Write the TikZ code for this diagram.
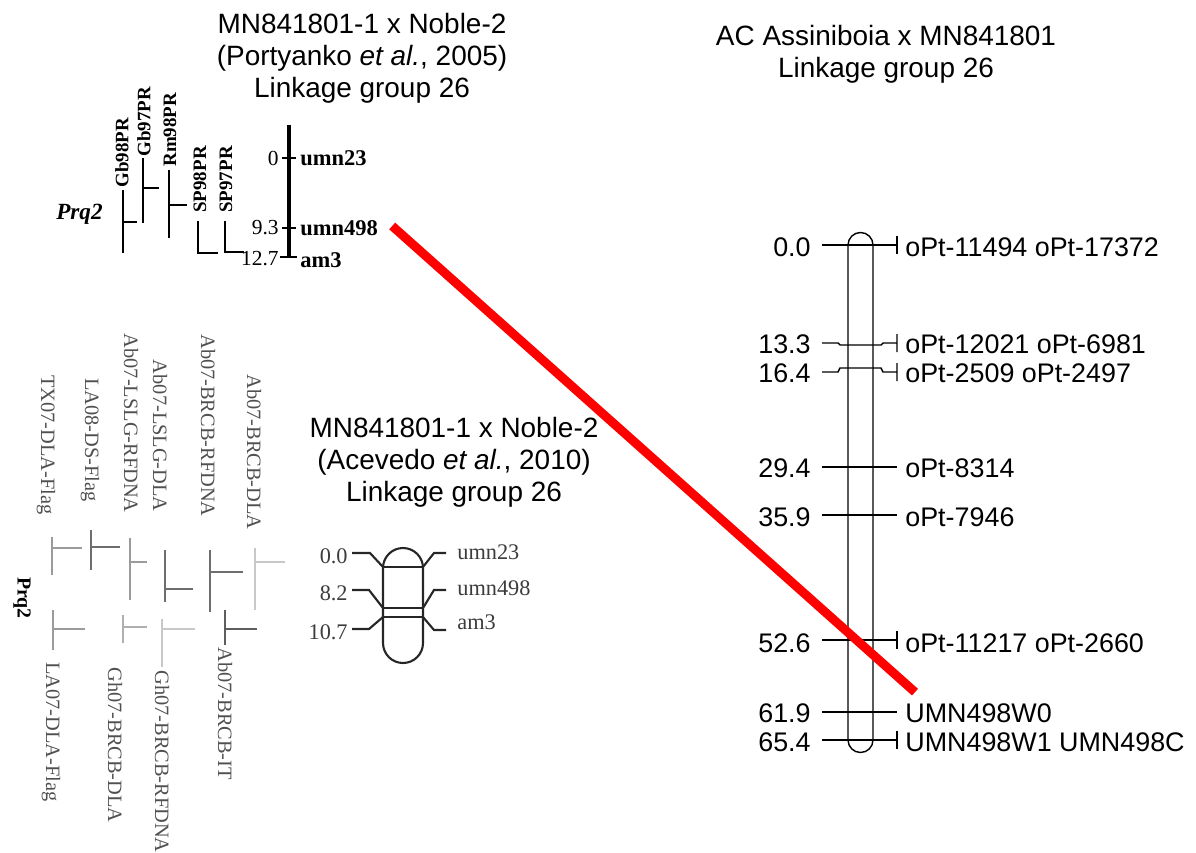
\documentclass[tikz,border=0pt]{standalone}
\usepackage{fontspec}
\setmainfont{Liberation Serif}
\setsansfont{Liberation Sans}
\usepackage{tikz}
\usetikzlibrary{positioning,calc}
\definecolor{qtllight}{RGB}{200,200,200}
\definecolor{qtlmid}{RGB}{155,155,155}
\definecolor{qtldark}{RGB}{110,110,110}
\definecolor{mapink}{RGB}{60,60,60}

\begin{document}
\begin{tikzpicture}[
  x=0.02cm, y=-0.02cm,
  title/.style={font=\sffamily\fontsize{15.9}{18.1}\selectfont,align=center,anchor=north,inner sep=0pt},
  pmark/.style={font=\fontsize{12.8}{14}\selectfont\bfseries,anchor=west,inner sep=0pt},
  pdist/.style={font=\fontsize{12.2}{14}\selectfont,anchor=east,inner sep=0pt},
  pqtl/.style={font=\fontsize{10.8}{12}\selectfont\bfseries,rotate=90,anchor=west,inner sep=0pt},
  pprq/.style={font=\fontsize{13.2}{15}\selectfont\bfseries\itshape,anchor=east,inner sep=0pt},
  amark/.style={text=mapink,font=\fontsize{12.7}{14}\selectfont,inner sep=0pt},
  aqtl/.style={text=mapink!90,font=\fontsize{11.6}{13}\selectfont,rotate=-90,inner sep=0pt},
  aprq/.style={font=\fontsize{11.3}{13}\selectfont\bfseries,rotate=-90,inner sep=0pt},
  rmark/.style={font=\sffamily\fontsize{15.3}{17}\selectfont,inner sep=0pt},
  pbar/.style={line width=2.2pt},
  qbar/.style={line width=1.7pt},
  ptick/.style={line width=1pt},
  gbar/.style={line width=1.5pt},
  achrom/.style={black!85,line width=1.2pt},
  chrom/.style={line width=0.8pt},
  link/.style={red,line width=5.1pt},
]
\useasboundingbox (0,0) rectangle (1196,852);

\node[title] (ptitle) at (362,13) {MN841801-1 x Noble-2\\(Portyanko \textit{et al.}, 2005)\\Linkage group 26};
\draw[pbar] (289,125) -- (289,258);
\draw[ptick] (282,158) -- (296,158) (282,228) -- (296,228) (280,257) -- (297,257);
\node[pdist] (p-d0) at (279,158) {0};
\node[pdist] (p-d93) at (279,228) {9.3};
\node[pdist] (p-d127) at (279,259) {12.7};
\node[pmark] (p-umn23) at (300,158) {umn23};
\node[pmark] (p-umn498) at (300,228) {umn498};
\node[pmark] (p-am3) at (300,260) {am3};
\draw[qbar] (123,190) -- (123,253) (123,222) -- (137,222);
\draw[qbar] (143,158) -- (143,223) (143,188) -- (159,188);
\draw[qbar] (169,170) -- (169,238) (169,205) -- (187,205);
\draw[qbar] (198,221) -- (198,253) -- (218,253);
\draw[qbar] (225,221) -- (225,252) -- (244,252);
\node[pqtl] (q-gb98) at (122,188) {Gb98PR};
\node[pqtl] (q-gb97) at (144,157) {Gb97PR};
\node[pqtl] (q-rm98) at (170,167) {Rm98PR};
\node[pqtl] (q-sp98) at (200,213) {SP98PR};
\node[pqtl] (q-sp97) at (226,213) {SP97PR};
\node[pprq] (p-prq2) at (103,214) {Prq2};

\node[title] (atitle) at (454,417) {MN841801-1 x Noble-2\\(Acevedo \textit{et al.}, 2010)\\Linkage group 26};
\draw[achrom] (383,643) -- (383,568) arc[start angle=180,end angle=360,radius=20] -- (423,643) arc[start angle=0,end angle=180,radius=20];
\draw[achrom] (383,567) -- (423,567) (383,608) -- (423,608) (383,617) -- (423,617);
\draw[achrom] (352,553) -- (370,553) -- (383,567) (423,567) -- (434,553) -- (446,553);
\draw[achrom] (352,590) -- (369,590) -- (383,608) (423,608) -- (434,590) -- (446,590);
\draw[achrom] (352,629) -- (369,629) -- (383,617) (423,617) -- (434,630) -- (446,630);
\node[amark,anchor=east] (a-d0) at (348,556) {0.0};
\node[amark,anchor=east] (a-d82) at (348,593) {8.2};
\node[amark,anchor=east] (a-d107) at (348,632) {10.7};
\node[amark,anchor=west] (a-umn23) at (457,552) {umn23};
\node[amark,anchor=west] (a-umn498) at (457,588) {umn498};
\node[amark,anchor=west] (a-am3) at (457,622) {am3};
\draw[gbar,qtlmid] (52,537) -- (52,575) (52,548) -- (82,548);
\draw[gbar,qtldark] (91,530) -- (91,570) (91,547) -- (120,547);
\draw[gbar,qtlmid] (130,538) -- (130,600) (130,562) -- (147,562);
\draw[gbar,qtldark] (165,550) -- (165,602) (165,589) -- (193,589);
\draw[gbar,qtldark] (210,550) -- (210,612) (210,572) -- (243,572);
\draw[gbar,qtllight] (255,548) -- (255,610) (255,562) -- (285,562);
\draw[gbar,qtlmid] (53,610) -- (53,650) (53,629) -- (85,629);
\draw[gbar,qtlmid!80] (123,615) -- (123,643) (123,627) -- (147,627);
\draw[gbar,qtllight] (162,619) -- (162,667) (162,629) -- (195,629);
\draw[gbar,qtldark!85!black] (225,610) -- (225,645) (225,629) -- (257,629);
\node[aqtl,anchor=east] (g-tx07) at (46,515) {TX07-DLA-Flag};
\node[aqtl,anchor=east] (g-la08) at (90,502) {LA08-DS-Flag};
\node[aqtl,anchor=east] (g-lslgrf) at (131,513) {Ab07-LSLG-RFDNA};
\node[aqtl,anchor=east] (g-lslgdl) at (160,512) {Ab07-LSLG-DLA};
\node[aqtl,anchor=east] (g-brcbrf) at (208,517) {Ab07-BRCB-RFDNA};
\node[aqtl,anchor=east] (g-brcbdl) at (254,530) {Ab07-BRCB-DLA};
\node[aqtl,anchor=west] (g-la07) at (51,662) {LA07-DLA-Flag};
\node[aqtl,anchor=west] (g-ghdl) at (115,667) {Gh07-BRCB-DLA};
\node[aqtl,anchor=west] (g-ghrf) at (162,670) {Gh07-BRCB-RFDNA};
\node[aqtl,anchor=west] (g-brcbit) at (225,647) {Ab07-BRCB-IT};
\node[aprq] (a-prq2) at (22,598) {Prq2};

\node[title] (rtitle) at (886,25) {AC Assiniboia x MN841801\\Linkage group 26};
\draw[chrom] (848,740) -- (848,245) arc[start angle=180,end angle=360,radius=12.5] -- (873,740) arc[start angle=0,end angle=180,radius=12.5];
\draw[chrom] (822,245) -- (897,245) (897,236) -- (897,254);
\draw[chrom] (822,343) -- (838,343) -- (840,345) -- (881,345) -- (883,343) -- (897,343) (897,334) -- (897,352);
\draw[chrom] (822,372) -- (838,372) -- (840,368) -- (881,368) -- (883,372) -- (897,372) (897,363) -- (897,381);
\draw[chrom] (822,467) -- (897,467);
\draw[chrom] (822,515) -- (897,515);
\draw[chrom] (822,640) -- (897,640) (897,631) -- (897,649);
\draw[chrom] (822,712) -- (897,712);
\draw[chrom] (822,740) -- (897,740) (897,731) -- (897,749);
\node[rmark,anchor=east] (r-d00) at (811,247) {0.0};
\node[rmark,anchor=east] (r-d133) at (811,344) {13.3};
\node[rmark,anchor=east] (r-d164) at (811,373) {16.4};
\node[rmark,anchor=east] (r-d294) at (811,468) {29.4};
\node[rmark,anchor=east] (r-d359) at (811,517) {35.9};
\node[rmark,anchor=east] (r-d526) at (811,643) {52.6};
\node[rmark,anchor=east] (r-d619) at (811,713) {61.9};
\node[rmark,anchor=east] (r-d654) at (811,742) {65.4};
\node[rmark,anchor=west] (r-opt11494) at (905,247) {oPt-11494 oPt-17372};
\node[rmark,anchor=west] (r-opt12021) at (905,344) {oPt-12021 oPt-6981};
\node[rmark,anchor=west] (r-opt2509) at (905,373) {oPt-2509 oPt-2497};
\node[rmark,anchor=west] (r-opt8314) at (905,468) {oPt-8314};
\node[rmark,anchor=west] (r-opt7946) at (905,517) {oPt-7946};
\node[rmark,anchor=west] (r-opt11217) at (905,643) {oPt-11217 oPt-2660};
\node[rmark,anchor=west] (a-w0) at (905,713) {UMN498W0};
\node[rmark,anchor=west] (a-w1) at (905,742) {UMN498W1 UMN498C};

\draw[link] ($(p-umn498.east)+(14,-2)$) -- ($(a-w0.north west)+(10,-11)$);
\end{tikzpicture}
\end{document}
